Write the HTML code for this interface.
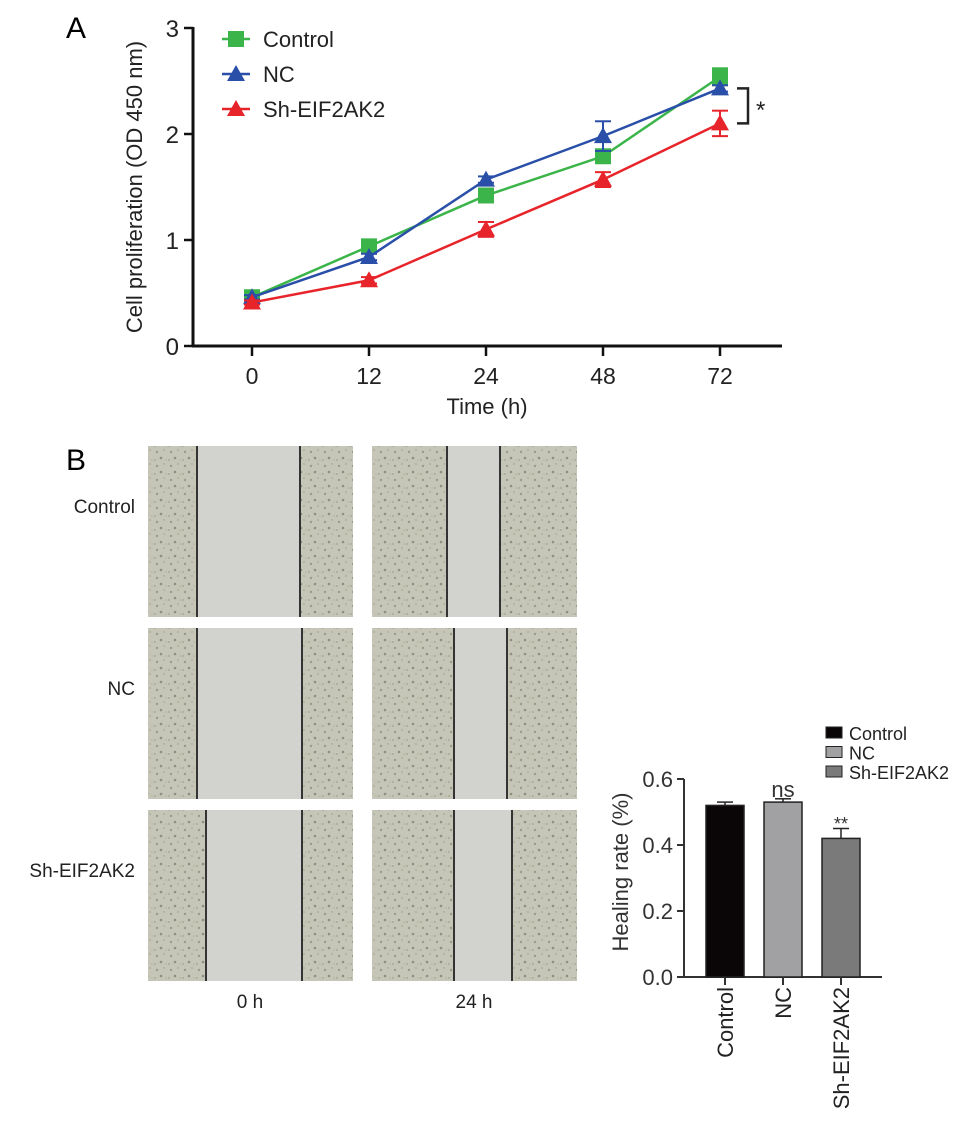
<!DOCTYPE html>
<html><head><meta charset="utf-8"><style>
body{margin:0;background:#fff;}
svg{display:block;font-family:"Liberation Sans",Arial,sans-serif;}
</style></head><body>
<svg width="969" height="1134" viewBox="0 0 969 1134">
<defs>
<pattern id="cells" width="14" height="14" patternUnits="userSpaceOnUse">
<rect width="14" height="14" fill="#c6c6b8"/>
<circle cx="3" cy="4" r="1.2" fill="#9a9a88"/><circle cx="10" cy="2" r="0.9" fill="#a9aa92"/>
<circle cx="7" cy="10" r="1.3" fill="#8e8f7e"/><circle cx="12" cy="12" r="0.8" fill="#b0b29a"/>
<circle cx="1" cy="12" r="0.9" fill="#a3a38f"/>
</pattern>
</defs>
<text x="66" y="38" font-size="30">A</text>
<text x="66" y="470" font-size="30">B</text>
<g id="lineChart"></g>
<g id="micro"></g>
<g id="barChart"></g>
</svg>
<script>
const NS="http://www.w3.org/2000/svg";
const timeLabels=["0","12","24","48","72"];
const controlVals=[0.46,0.94,1.42,1.79,2.54];
const ncVals=[0.46,0.84,1.57,1.98,2.43];
const shVals=[0.41,0.62,1.10,1.57,2.10];
const controlErr=[0.02,0.03,0.03,0.05,0.08];
const ncErr=[0.02,0.03,0.03,0.14,0.03];
const shErr=[0.02,0.03,0.07,0.07,0.12];
const yTicksA=[0,1,2,3];
const barCats=["Control","NC","Sh-EIF2AK2"];
const barVals=[0.52,0.53,0.42];
const barErr=[0.01,0.01,0.03];
const yTicksB=[0,0.2,0.4,0.6];

function el(tag,attrs,parent,text){const e=document.createElementNS(NS,tag);for(const k in attrs)e.setAttribute(k,attrs[k]);if(text!==undefined)e.textContent=text;parent.appendChild(e);return e;}

// Chart A
const gA=document.getElementById('lineChart');
const xA=i=>252+i*117;
const yA=v=>346-v*106;
el('line',{x1:193,y1:yA(3)-1,x2:193,y2:347,stroke:'#111','stroke-width':3},gA);
el('line',{x1:192,y1:346,x2:782,y2:346,stroke:'#111','stroke-width':3},gA);
yTicksA.forEach(t=>{
 const l=el('line',{x1:184,y1:yA(t),x2:193,y2:yA(t),stroke:'#111','stroke-width':2.5},gA);
 
 const tx=el('text',{x:179,y:yA(t)+9,'font-size':24,'text-anchor':'end',fill:'#222'},gA,String(t));
 
});
timeLabels.forEach((t,i)=>{
 el('line',{x1:xA(i),y1:346,x2:xA(i),y2:356,stroke:'#111','stroke-width':2.5},gA);
 const tx=el('text',{x:xA(i),y:384,'font-size':23,'text-anchor':'middle',fill:'#222'},gA,t);
 
});
const xt=el('text',{x:487,y:414,'font-size':22,'text-anchor':'middle',fill:'#222'},gA,'Time (h)');

const yt=el('text',{x:0,y:0,'font-size':22,'text-anchor':'middle',fill:'#222',transform:'translate(142,187) rotate(-90)'},gA,'Cell proliferation (OD 450 nm)');


const series=[
 {name:'control',vals:controlVals,err:controlErr,color:'#3bb54a',marker:'sq'},
 {name:'nc',vals:ncVals,err:ncErr,color:'#2a4fa8',marker:'tri'},
 {name:'sh-eif2ak2',vals:shVals,err:shErr,color:'#e8242b',marker:'tri'}];
function marker(g,m,x,y,c){
 if(m==='sq')return el('rect',{x:x-8,y:y-8,width:16,height:16,fill:c},g);
 return el('polygon',{points:`${x},${y-9} ${x+9},${y+7} ${x-9},${y+7}`,fill:c},g);
}
series.forEach(s=>{
 const g=el('g',{},gA);
 
 const pts=s.vals.map((v,i)=>`${xA(i)},${yA(v)}`).join(' ');
 el('polyline',{points:pts,fill:'none',stroke:s.color,'stroke-width':2.5},g);
 s.vals.forEach((v,i)=>{
  const top=yA(v+s.err[i]),bot=yA(v-s.err[i]);
  el('line',{x1:xA(i),y1:top,x2:xA(i),y2:bot,stroke:s.color,'stroke-width':2},g);
  el('line',{x1:xA(i)-8,y1:top,x2:xA(i)+8,y2:top,stroke:s.color,'stroke-width':2},g);
  el('line',{x1:xA(i)-8,y1:bot,x2:xA(i)+8,y2:bot,stroke:s.color,'stroke-width':2},g);
  const m=marker(g,s.marker,xA(i),yA(v),s.color);
  
 });
});
const legA=[['Control','#3bb54a','sq'],['NC','#2a4fa8','tri'],['Sh-EIF2AK2','#e8242b','tri']];
legA.forEach((l,i)=>{
 const g=el('g',{},gA);
 
 const y=39+i*35;
 el('line',{x1:222,y1:y,x2:250,y2:y,stroke:l[1],'stroke-width':2.5},g);
 marker(g,l[2],236,y,l[1]);
 el('text',{x:263,y:y+8,'font-size':22,fill:'#222'},g,l[0]);
});
const br=el('path',{d:`M 737 ${yA(2.43)} H 748 V ${yA(2.1)} H 737`,fill:'none',stroke:'#222','stroke-width':2.5},gA);

const st=el('text',{x:756,y:118,'font-size':24,fill:'#222'},gA,'*');


// Micrographs
const gM=document.getElementById('micro');
const rows=['Control','NC','Sh-EIF2AK2'];
const rowY=[446,628,810];
const colX=[148,372];
const scratch=[[[197,300],[447,500]],[[197,302],[454,507]],[[206,302],[454,512]]];
rows.forEach((r,ri)=>{
 const t=el('text',{x:135,y:rowY[ri]+67,'font-size':19,'text-anchor':'end',fill:'#222'},gM,r);
 
 colX.forEach((cx,ci)=>{
  const g=el('g',{},gM);
  
  el('rect',{x:cx,y:rowY[ri],width:205,height:171,fill:'url(#cells)'},g);
  const [a,b]=scratch[ri][ci];
  el('rect',{x:a,y:rowY[ri],width:b-a,height:171,fill:'#d2d3cf'},g);
  el('line',{x1:a,y1:rowY[ri],x2:a,y2:rowY[ri]+171,stroke:'#333','stroke-width':2},g);
  el('line',{x1:b,y1:rowY[ri],x2:b,y2:rowY[ri]+171,stroke:'#333','stroke-width':2},g);
 });
});
['0 h','24 h'].forEach((t,i)=>{
 const tx=el('text',{x:colX[i]+102,y:1008,'font-size':19,'text-anchor':'middle',fill:'#222'},gM,t);
 
});

// Bar chart
const gB=document.getElementById('barChart');
const yB=v=>977-v*330;
const xB=i=>725+i*58;
const fills=['#0a0608','#a1a1a4','#7a7a7a'];
el('line',{x1:684,y1:yB(0.6),x2:684,y2:978,stroke:'#333','stroke-width':2},gB);
el('line',{x1:683,y1:977,x2:882,y2:977,stroke:'#333','stroke-width':2},gB);
yTicksB.forEach(t=>{
 el('line',{x1:677,y1:yB(t),x2:684,y2:yB(t),stroke:'#333','stroke-width':2},gB);
 const tx=el('text',{x:673,y:yB(t)+8,'font-size':22,'text-anchor':'end',fill:'#333'},gB,t.toFixed(1));
 
});
const ybt=el('text',{x:0,y:0,'font-size':22,'text-anchor':'middle',fill:'#333',transform:'translate(628,872) rotate(-90)'},gB,'Healing rate (%)');

barCats.forEach((c,i)=>{
 const bar=el('rect',{x:xB(i)-19,y:yB(barVals[i]),width:38,height:yB(0)-yB(barVals[i]),fill:fills[i],stroke:'#222','stroke-width':1.5},gB);
 
 const top=yB(barVals[i]+barErr[i]);
 el('line',{x1:xB(i),y1:top,x2:xB(i),y2:yB(barVals[i]),stroke:'#222','stroke-width':1.5},gB);
 el('line',{x1:xB(i)-8,y1:top,x2:xB(i)+8,y2:top,stroke:'#222','stroke-width':1.5},gB);
 el('line',{x1:xB(i),y1:977,x2:xB(i),y2:985,stroke:'#333','stroke-width':2},gB);
 const tx=el('text',{x:0,y:0,'font-size':22,'text-anchor':'end',fill:'#222',transform:`translate(${xB(i)+8},987) rotate(-90)`},gB,c);
 
});
const ns=el('text',{x:xB(1),y:797,'font-size':22,'text-anchor':'middle',fill:'#333'},gB,'ns');

const ss=el('text',{x:xB(2),y:830,'font-size':18,'text-anchor':'middle',fill:'#333'},gB,'**');

barCats.forEach((c,i)=>{
 const g=el('g',{},gB);
 
 const y=733+i*19.5;
 el('rect',{x:826,y:y-6,width:16,height:11,fill:fills[i],stroke:'#222','stroke-width':1},g);
 el('text',{x:849,y:y+7,'font-size':18,fill:'#222'},g,c);
});
</script>
</body></html>
